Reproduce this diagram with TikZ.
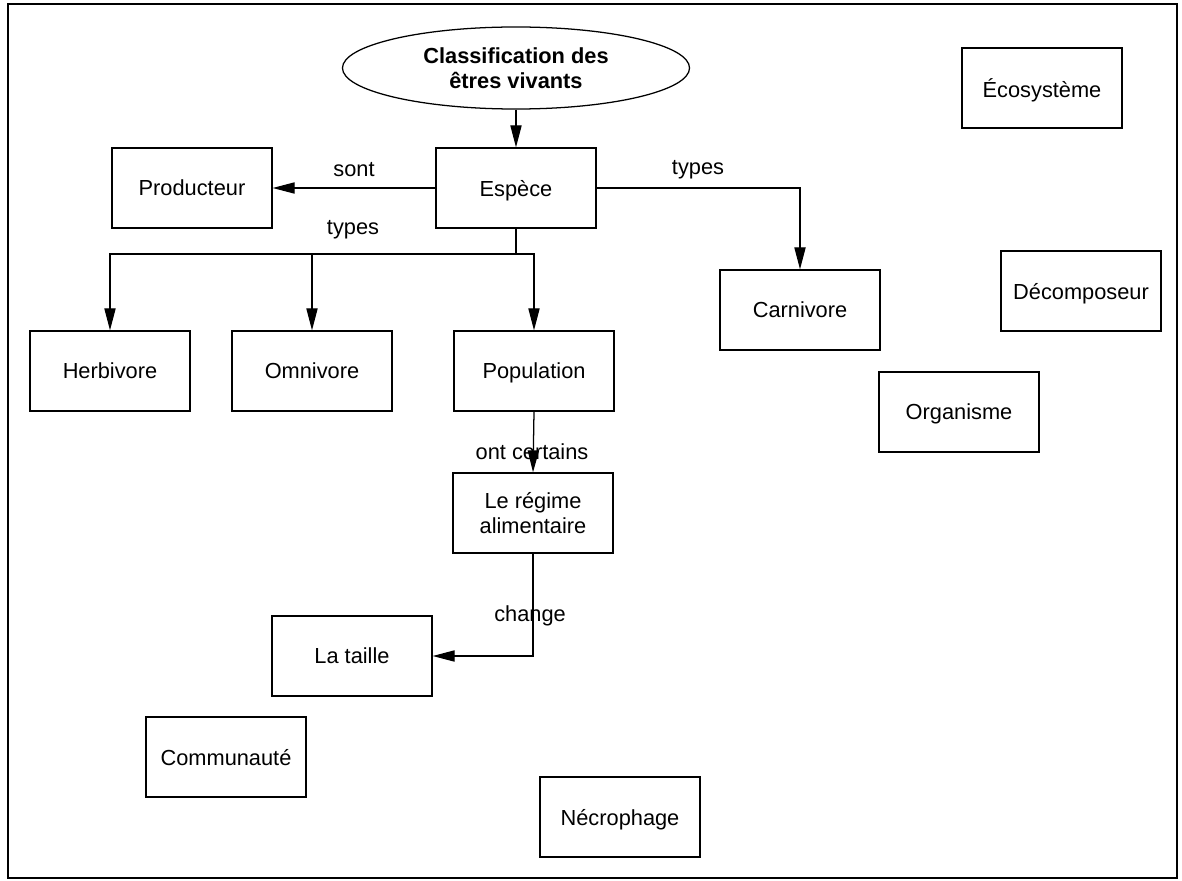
\documentclass[tikz,border=0pt]{standalone}
\usepackage{fontspec}
\setmainfont{Liberation Sans}
\usetikzlibrary{arrows.meta,shapes.geometric}

\tikzset{
  box/.style={draw, line width=0.9pt, minimum width=4cm, minimum height=2cm,
    align=center, inner sep=2pt, text depth=0pt},
  title/.style={draw, ellipse, line width=0.9pt, minimum width=8.675cm,
    minimum height=2.05cm, align=center, inner sep=0pt,
    font=\fontsize{15.5}{18}\selectfont\bfseries},
  lbl/.style={inner sep=1pt}
}

\begin{document}
\begin{tikzpicture}[x=0.025cm, y=-0.025cm, font=\fontsize{15.5}{18}\selectfont,
  line join=miter, >={Triangle[length=0.55cm,width=0.28cm]}]
\useasboundingbox (0,0) rectangle (1182,880);
\draw[line width=1.4pt] (8,4) rectangle (1177,878);

% the concepts
\node[title] (classif) at (516,68) {Classification des\\ êtres vivants};
\node[box] (espece) at (516,188) {Espèce};
\node[box] (prod) at (192,188) {Producteur};
\node[box] (herb) at (110,371) {Herbivore};
\node[box] (omni) at (312,371) {Omnivore};
\node[box] (popu) at (534,371) {Population};
\node[box] (regime) at (533,513) {Le régime\\ alimentaire};
\node[box] (taille) at (352,656) {La taille};
\node[box] (carni) at (800,310) {Carnivore};
\node[box] (eco) at (1042,88) {Écosystème};
\node[box] (decomp) at (1081,291) {Décomposeur};
\node[box] (orga) at (959,412) {Organisme};
\node[box] (commu) at (226,757) {Communauté};
\node[box] (necro) at (620,817) {Nécrophage};

% link words
\node[lbl] (tsont) at (354,170) {sont};
\node[lbl] (ttypesr) at (698,170) {types};
\node[lbl] (ttypesl) at (353,230) {types};
\node[lbl] (tcert) at (532,452) {ont certains};
\node[lbl] (tchange) at (530,616) {change};

% links
\coordinate (bus) at (516,254);
\draw[->, line width=0.9pt] (classif) -- (espece);
\draw[->, line width=0.9pt] (espece) -- (prod);
\draw[->, line width=0.9pt] (espece.east) -| (carni.north);
\draw[line width=0.9pt] (espece.south) -- (bus);
\draw[->, line width=0.9pt] (bus) -| (herb.north);
\draw[->, line width=0.9pt] (bus) -| (omni.north);
\draw[->, line width=0.9pt] (bus) -| (popu.north);
\draw[->, line width=0.9pt] (popu.south) -- (regime.north);
\draw[->, line width=0.9pt] (regime.south) |- (taille.east);
\end{tikzpicture}
\end{document}
